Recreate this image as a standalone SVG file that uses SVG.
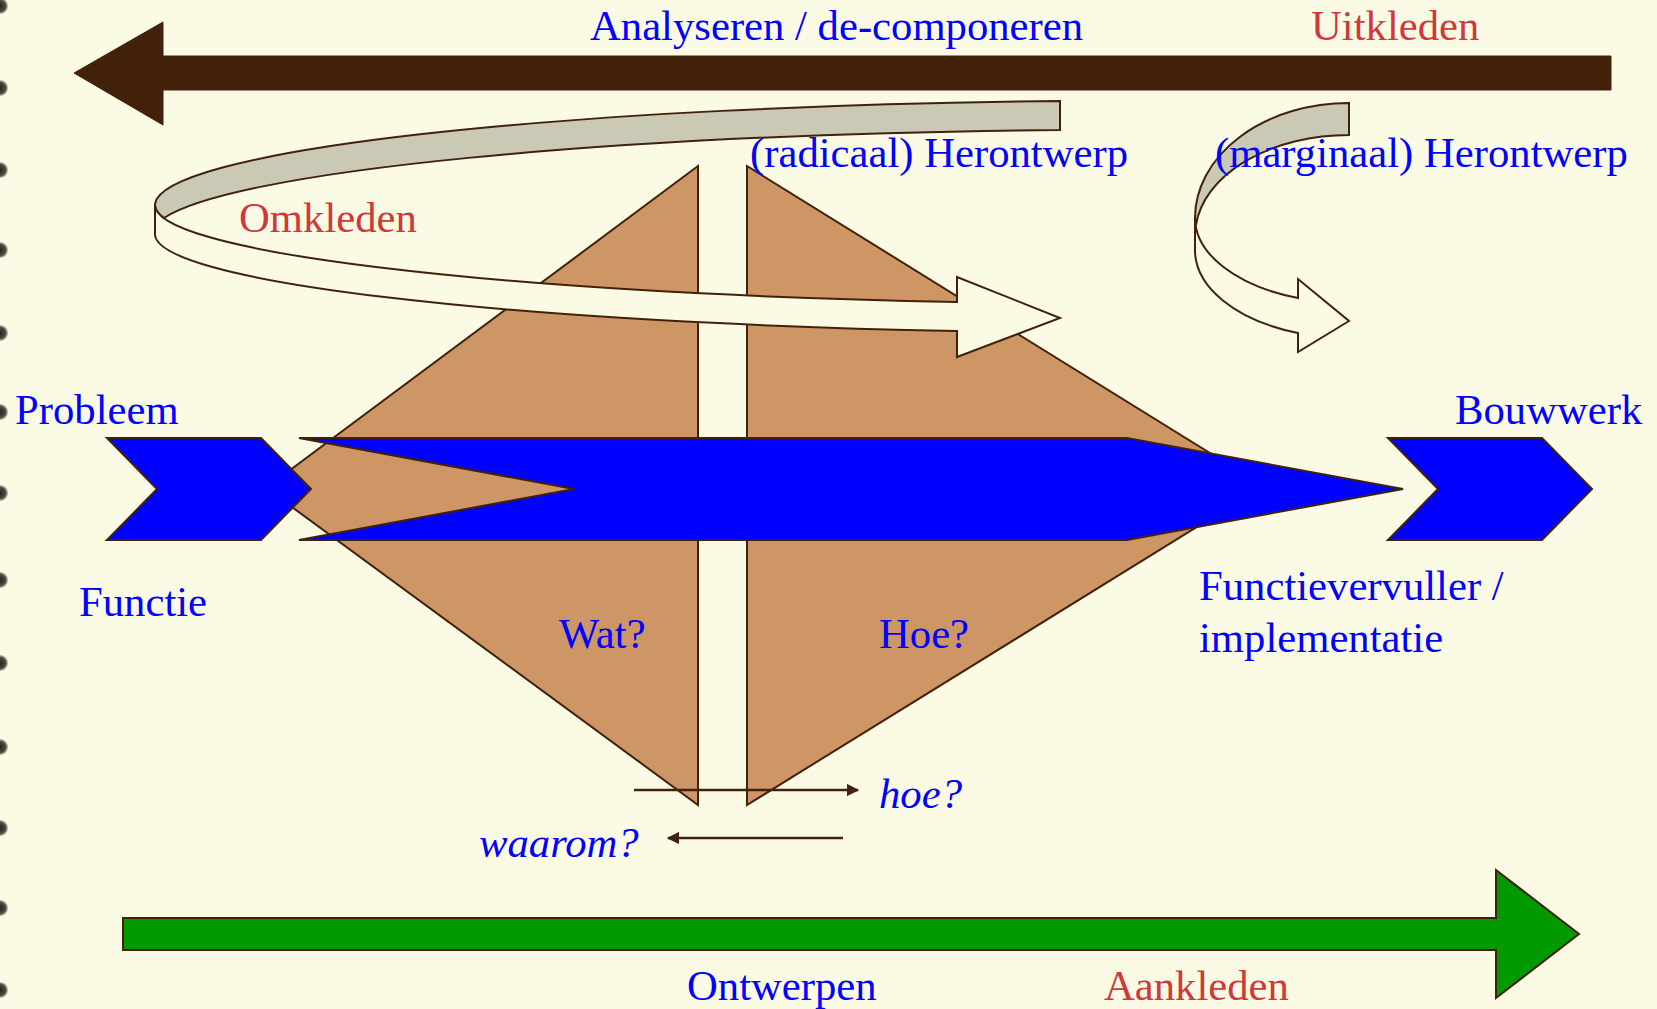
<svg xmlns="http://www.w3.org/2000/svg" width="1657" height="1009" viewBox="0 0 1657 1009">
<defs>
<radialGradient id="dotg" cx="0.5" cy="0.5" r="0.5">
<stop offset="0" stop-color="#262620"/>
<stop offset="0.7" stop-color="#4a4a40"/>
<stop offset="1" stop-color="#9a9a8a" stop-opacity="0.6"/>
</radialGradient>
<marker id="ah" viewBox="0 0 10 10" refX="9" refY="5" markerWidth="5" markerHeight="5" orient="auto" markerUnits="strokeWidth">
<path d="M0,0 L10,5 L0,10 Z" fill="#42210B"/>
</marker>
<style>
text{font-family:"Liberation Serif","Times New Roman",serif;font-size:42.7px;}
.b{fill:#0000FF;}
.r{fill:#D0383A;}
.i{font-style:italic;}
.edge{stroke:#42210B;stroke-width:2;stroke-linejoin:miter;}
.tan{fill:#CE9664;}
.grey{fill:#C9C9B6;}
.cream{fill:#FBFBE5;}
.blue{fill:#0000FF;}
.line{stroke:#42210B;stroke-width:2.5;fill:none;marker-end:url(#ah);}
</style>
</defs>
<rect width="1657" height="1009" fill="#FBFBE5"/>
<g id="binding">
<circle cx="0" cy="6" r="8" fill="url(#dotg)"/>
<circle cx="0" cy="88" r="8" fill="url(#dotg)"/>
<circle cx="0" cy="170" r="8" fill="url(#dotg)"/>
<circle cx="0" cy="250" r="8" fill="url(#dotg)"/>
<circle cx="0" cy="333" r="8" fill="url(#dotg)"/>
<circle cx="0" cy="412" r="8" fill="url(#dotg)"/>
<circle cx="0" cy="493" r="8" fill="url(#dotg)"/>
<circle cx="0" cy="580" r="8" fill="url(#dotg)"/>
<circle cx="0" cy="663" r="8" fill="url(#dotg)"/>
<circle cx="0" cy="747" r="8" fill="url(#dotg)"/>
<circle cx="0" cy="828" r="8" fill="url(#dotg)"/>
<circle cx="0" cy="908" r="8" fill="url(#dotg)"/>
<circle cx="0" cy="990" r="8" fill="url(#dotg)"/>
</g>
<g id="wat">
<polygon class="tan edge" points="698,166 266,488 698,805"/>
</g>
<g id="hoe">
<polygon class="tan edge" points="747,166 1263,486 747,805"/>
</g>
<g id="connectors">
<polygon id="analyseren-arrow" points="74,73 163,22 163,56 1611,56 1611,90 163,90 163,125" fill="#42210B" stroke="#42210B" stroke-width="1"/>
<g id="radicaal-loop">
<path class="grey edge" d="M1060,101 A1000,105 0 0 0 155,204 A1000,99 0 0 0 164,218 A1000,105 0 0 1 1060,130 Z"/>
<path class="cream edge" d="M155,204 A1000,99 0 0 0 957,302 L957,277 L1060,318 L957,357 L957,331 A1000,99 0 0 1 155,235 Z"/>
</g>
<g id="marginaal-loop">
<path class="grey edge" d="M1349,103 A154,115 0 0 0 1195,218 L1196,225 A154,100 0 0 1 1349,135 Z"/>
<path class="cream edge" d="M1195,218 A154,85 0 0 0 1298,298 L1298,279 L1349,321 L1298,352 L1298,333 A154,88 0 0 1 1195,249 Z"/>
</g>
<polygon id="ontwerpen-arrow" points="123,918 1496,918 1496,870 1579,934 1496,998 1496,950 123,950" fill="#009900" stroke="#42210B" stroke-width="2"/>
<line class="line" x1="634" y1="790" x2="858" y2="790"/>
<line class="line" x1="843" y1="838" x2="668" y2="838"/>
</g>
<g id="flow">
<polygon class="blue edge" points="299,438 1127,438 1403,489 1127,540 299,540 574,489"/>
</g>
<g id="probleem">
<polygon class="blue edge" points="107,438 261,438 311,489 261,540 107,540 157,489"/>
<text class="b" x="15" y="424">Probleem</text>
<text class="b" x="79" y="616">Functie</text>
</g>
<g id="bouwwerk">
<polygon class="blue edge" points="1388,438 1542,438 1592,489 1542,540 1388,540 1438,489"/>
<text class="b" x="1455" y="424">Bouwwerk</text>
<text class="b" x="1199" y="600">Functievervuller /</text>
<text class="b" x="1199" y="652">implementatie</text>
</g>
<g id="labels">
<text class="b" x="590" y="40">Analyseren / de-componeren</text>
<text class="r" x="1311" y="40">Uitkleden</text>
<text class="b" x="750" y="167">(radicaal) Herontwerp</text>
<text class="b" x="1215" y="167">(marginaal) Herontwerp</text>
<text class="r" x="239" y="232">Omkleden</text>
<text class="b" x="559" y="648">Wat?</text>
<text class="b" x="879" y="648">Hoe?</text>
<text class="b i" x="879" y="808">hoe?</text>
<text class="b i" x="479" y="857">waarom?</text>
<text class="b" x="687" y="1000">Ontwerpen</text>
<text class="r" x="1104" y="1000">Aankleden</text>
</g>
</svg>
